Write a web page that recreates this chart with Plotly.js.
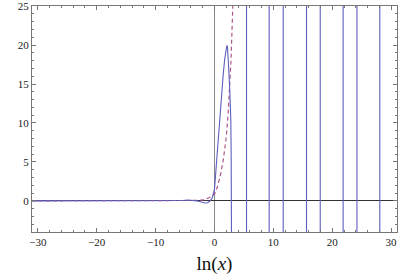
<!DOCTYPE html>
<html>
<head>
<meta charset="utf-8">
<script src="https://cdn.plot.ly/plotly-3.0.1.min.js"></script>
<style>html,body{margin:0;padding:0;background:#fff;}#chart{width:398px;height:275px;}</style>
</head>
<body>
<div id="chart"></div>
<script>
// Solid curve (ln x vs value); off-scale branches are given as large values, separated by gaps
var solidX = [-31, -6, -5.5, -4.5, -3.5, -3, -2.5, -2, -1.6, -1.2, -0.8, -0.4, -0.2, 0, 0.3, 0.6, 0.9, 1.2, 1.5, 1.75, 1.95, 2.1, 2.2, 2.3, 2.45, 2.6, 2.7, 2.77, 2.83, 2.9, 2.97, 3.02, null,
              5.44, 5.44, null, 9.29, 9.29, null, 11.67, 11.67, null, 15.63, 15.63, null,
              17.96, 17.96, null, 21.85, 21.85, null, 24.2, 24.2, null, 28.08, 28.08];
var solidY = [0, 0, 0.05, 0.1, 0.06, 0, -0.08, -0.2, -0.28, -0.25, -0.05, 0.35, 0.8, 1.5, 4.5, 7.8, 10.8, 13.8, 16.4, 18.3, 19.5, 19.95, 19.8, 18.8, 16.5, 14, 12, 10.4, 6, -1, -8, -30, null,
              -30, 30, null, 30, -30, null, -30, 30, null, 30, -30, null,
              -30, 30, null, 30, -30, null, -30, 30, null, 30, -30];
// Dashed curve
var dashX = [-31, -5, -3, -2, -1.5, -1, -0.5, 0, 0.5, 1, 1.5, 2, 2.3, 2.6, 2.8, 3.0, 3.1, 3.2];
var dashY = [0, 0.01, 0.05, 0.13, 0.22, 0.37, 0.6, 0.85, 1.8, 3.3, 5.3, 8.2, 11, 14.5, 18, 22.5, 25, 27];
var xTicks = [-30, -20, -10, 0, 10, 20, 30];
var xTickText = ['\u221230', '\u221220', '\u221210', '0', '10', '20', '30'];
var yTicks = [0, 5, 10, 15, 20, 25];

var data = [
  {x: dashX, y: dashY, type: 'scatter', mode: 'lines',
   line: {color: 'rgb(175,85,140)', width: 1.2, dash: '4px,3px'}, hoverinfo: 'skip'},
  {x: solidX, y: solidY, type: 'scatter', mode: 'lines', connectgaps: false,
   line: {color: 'rgb(95,95,190)', width: 1.1}, hoverinfo: 'skip'}
];

var frame = '#777';
var layout = {
  width: 398, height: 275,
  margin: {l: 32, r: 1, t: 6, b: 43},
  paper_bgcolor: '#fff', plot_bgcolor: '#fff',
  showlegend: false,
  font: {family: 'Liberation Serif, serif', size: 11, color: '#222'},
  xaxis: {
    range: [-31, 31], tickvals: xTicks, ticktext: xTickText,
    ticks: 'inside', ticklen: 4, tickcolor: frame, tickwidth: 1,
    minor: {dtick: 2, tick0: 0, ticks: 'inside', ticklen: 2, tickcolor: frame, showgrid: false},
    showline: true, linecolor: frame, linewidth: 1, mirror: 'ticks',
    showgrid: false, zeroline: true, zerolinecolor: '#888', zerolinewidth: 1,
    tickfont: {size: 11, family: 'Liberation Serif, serif'},
    title: {text: 'ln(<i>x</i>)', font: {size: 19, family: 'Liberation Serif, serif', color: '#111'}, standoff: 12}
  },
  yaxis: {
    range: [-4, 25.02], tickvals: yTicks,
    ticks: 'inside', ticklen: 4, tickcolor: frame, tickwidth: 1,
    minor: {dtick: 1, tick0: 0, ticks: 'inside', ticklen: 2, tickcolor: frame, showgrid: false},
    showline: true, linecolor: frame, linewidth: 1, mirror: 'ticks',
    showgrid: false, zeroline: true, zerolinecolor: '#333', zerolinewidth: 1,
    tickfont: {size: 11, family: 'Liberation Serif, serif'},
    ticklabeloverflow: 'allow'
  }
};
Plotly.newPlot('chart', data, layout, {staticPlot: true, displayModeBar: false});
</script>
</body>
</html>
